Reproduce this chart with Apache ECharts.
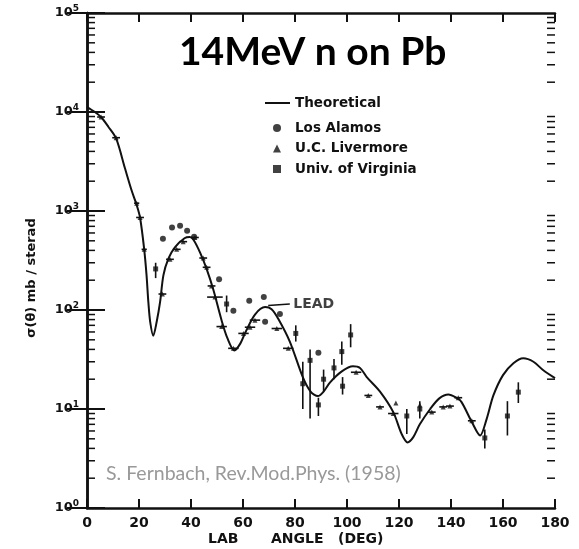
<!DOCTYPE html>
<html><head><meta charset="utf-8">
<script src="https://cdn.jsdelivr.net/npm/echarts@6/dist/echarts.min.js"></script>
<style>html,body{margin:0;padding:0;background:#fff}#c{width:579px;height:549px}</style>
</head><body><div id="c"></div>
<script>
// ---- data ----
const theoryAngle = [0,3,5.4,8.2,11.2,14.6,17.2,19.1,20.4,22,22.9,23.6,24.3,25.5,26.8,28.1,29.4,31.3,33.8,37.5,39.5,41,43.5,46,48.6,51.8,54,56.7,59,61,64.6,68.5,71,73.5,78,83,86,88.8,91,93.5,98,102.3,105,107.6,112.7,117.8,121,123.3,125.5,128,132,135.5,139,142,144,148,151.2,153.7,156.3,160,164,167.8,171.7,175.5,180];
const theoryValue = [11200,10000,8900,7100,5400,2700,1600,1150,860,410,225,120,76,55,76,120,225,330,430,530,545,510,380,260,160,78,52,39,46,60,90,107,102,82,48,21,15,13.5,15,18.6,24,27,26,21,15,9.3,5.6,4.6,5.2,7,10,12.8,14,13,11.8,7.4,5.4,7.9,13.7,22,29,32.5,30,24.6,20.5];

const losAlamosAngle = [29.2,32.7,35.8,38.5,41.2,50.8,56.3,62.4,68,68.5,74.2,89];
const losAlamosValue = [525,680,710,630,550,205,98,124,135,76,91,37];

const livermoreAngle  = [5.4,11.2,19.1,20.4,22,29,31.9,34.5,37,41.5,44.7,46,47.9,49.2,51.8,56.3,60.2,62.7,64.6,73,77.4,103.5,108.2,112.7,117.8,118.8,128,132.6,137,139.6,142.8,148];
const livermoreValue  = [8900,5500,1200,860,410,145,325,410,490,540,335,270,175,135,68,41,58,67,79,65,41,23.5,13.7,10.5,9,11.5,11,9.3,10.5,10.7,13,7.6];
const livermoreAngErr = [1.5,1.5,1,1.5,1,1.5,1.5,1.5,1.5,1.5,1.5,1.5,1.5,3,2,2,2,2,2,2,2,2,1.5,1.5,2,0,0,1.5,1.5,1.5,1.5,1.5];

const virginiaAngle = [26.4,53.7,80.3,83,85.8,89,91,95,98,98.3,101.4,123,128,153,161.7,165.9];
const virginiaValue = [260,115,58,18,31,11,20,26,38,17,56,8.5,10,5.1,8.5,14.8];
const virginiaLow   = [210,95,48,10,8,8.5,15,20,28,14,42,5.6,8,4,5.4,11.5];
const virginiaHigh  = [300,140,70,30,40,13,25,32,48,21,72,10,12,6.2,12,18.6];

const xTickLabels = ['0','20','40','60','80','100','120','140','160','180'];
const minorTickValues = [2,3,4,5,6,7,8,9,20,30,40,50,60,70,80,90,200,300,400,500,600,700,800,900,2000,3000,4000,5000,6000,7000,8000,9000,20000,30000,40000,50000,60000,70000,80000,90000];

// ---- build ----
const INK = '#111';
const zip2 = (a, b) => a.map((v, i) => [v, b[i]]);
const theory = zip2(theoryAngle, theoryValue);
const alamos = zip2(losAlamosAngle, losAlamosValue);
const liver = livermoreAngle.map((v, i) => [v, livermoreValue[i], livermoreAngErr[i]]);
const virg = virginiaAngle.map((v, i) => [v, virginiaValue[i], virginiaLow[i], virginiaHigh[i]]);

const chart = echarts.init(document.getElementById('c'), null, {renderer: 'canvas'});
const labFont = {fontFamily: 'DejaVu Sans', fontWeight: 'bold', color: INK};

chart.setOption({
  backgroundColor: '#fff',
  animation: false,
  title: [
    {text: '14MeV n on Pb', left: 174, top: 28, textStyle: {fontFamily: 'Lato', fontWeight: 'bold', fontSize: 39, color: '#000'}},
    {text: 'S. Fernbach, Rev.Mod.Phys. (1958)', left: 101, top: 459, textStyle: {fontFamily: 'Lato', fontWeight: 'normal', fontSize: 19.5, color: '#999'}},
    {text: 'LAB', left: 203, top: 527, textStyle: Object.assign({fontSize: 14}, labFont)},
    {text: 'ANGLE', left: 266, top: 527, textStyle: Object.assign({fontSize: 14}, labFont)},
    {text: '(DEG)', left: 333, top: 527, textStyle: Object.assign({fontSize: 14}, labFont)}
  ],
  graphic: [{
    type: 'text', x: 32, y: 278, rotation: Math.PI / 2,
    style: {text: 'σ(θ) mb / sterad', font: 'bold 13px "DejaVu Sans"', fill: INK, align: 'center', verticalAlign: 'middle'}
  }],
  legend: [
    {data: [{name: 'Theoretical', icon: 'rect'}], left: 260, top: 91, itemWidth: 25, itemHeight: 2, itemGap: 0,
     textStyle: Object.assign({fontSize: 13.5}, labFont)},
    {data: [{name: 'Los Alamos', icon: 'circle'}, {name: 'U.C. Livermore', icon: 'triangle'}, {name: 'Univ. of Virginia', icon: 'rect'}],
     orient: 'vertical', left: 268, top: 115,
     itemWidth: 8, itemHeight: 8, itemGap: 4.5,
     textStyle: Object.assign({fontSize: 13.5, lineHeight: 16, padding: [0, 0, 0, 9]}, labFont)}
  ],
  grid: {left: 87, right: 24, top: 13, bottom: 41},
  xAxis: [
    {type: 'value', min: 0, max: 180, interval: 20,
     axisLine: {lineStyle: {color: INK, width: 2.5}},
     axisTick: {inside: true, length: 9, lineStyle: {color: INK, width: 2}},
     axisLabel: {margin: 8, fontSize: 14, fontFamily: 'DejaVu Sans', fontWeight: 'bold', color: INK,
       formatter: v => xTickLabels[Math.round(v / 20)]},
     splitLine: {show: false}},
    {type: 'value', min: 0, max: 180, interval: 20, position: 'top',
     axisLine: {lineStyle: {color: INK, width: 2.5}},
     axisTick: {inside: true, length: 9, lineStyle: {color: INK, width: 2}},
     axisLabel: {show: false}, splitLine: {show: false}}
  ],
  yAxis: [
    {type: 'log', logBase: 10, min: 1, max: 100000,
     axisLine: {show: true, lineStyle: {color: INK, width: 2.5}},
     axisTick: {inside: true, length: 18, lineStyle: {color: INK, width: 2}},
     axisLabel: {margin: 8, formatter: v => '{b|10}{s|' + Math.round(Math.log10(v)) + '}',
       rich: {b: {fontSize: 13, fontFamily: 'DejaVu Sans', fontWeight: 'bold', color: INK},
              s: {fontSize: 9, fontFamily: 'DejaVu Sans', fontWeight: 'bold', color: INK, padding: [0, 0, 8, 0]}}},
     splitLine: {show: false}},
    {type: 'log', logBase: 10, min: 1, max: 100000, position: 'right',
     axisLine: {show: true, lineStyle: {color: INK, width: 2.5}},
     axisTick: {inside: true, length: 20, lineStyle: {color: INK, width: 2}},
     axisLabel: {show: false}, splitLine: {show: false}}
  ],
  series: [
    {name: 'Theoretical', type: 'line', data: theory, smooth: 0.3, symbol: 'none',
     lineStyle: {color: INK, width: 2}, itemStyle: {color: INK}, z: 3},
    {name: 'Los Alamos', type: 'scatter', data: alamos, symbol: 'circle', symbolSize: 6,
     itemStyle: {color: INK}, z: 4},
    {name: 'U.C. Livermore', type: 'scatter', data: liver, symbol: 'triangle', symbolSize: 5,
     itemStyle: {color: INK}, z: 4},
    {name: 'Univ. of Virginia', type: 'scatter', data: virg, symbol: 'rect', symbolSize: 5,
     itemStyle: {color: INK}, z: 4},
    {type: 'custom', name: 'angErr', data: liver, silent: true, z: 4,
     renderItem: (p, api) => {
       const x = api.value(0), y = api.value(1), e = api.value(2);
       if (!e) return null;
       const a = api.coord([x - e, y]), b = api.coord([x + e, y]);
       return {type: 'line', shape: {x1: a[0], y1: a[1], x2: b[0], y2: b[1]}, style: {stroke: INK, lineWidth: 1.6}};
     }},
    {type: 'custom', name: 'valErr', data: virg, silent: true, z: 4,
     renderItem: (p, api) => {
       const x = api.value(0);
       const a = api.coord([x, api.value(2)]), b = api.coord([x, api.value(3)]);
       return {type: 'line', shape: {x1: a[0], y1: a[1], x2: b[0], y2: b[1]}, style: {stroke: INK, lineWidth: 1.6}};
     }},
    {type: 'custom', name: 'minorTicks', data: minorTickValues.map(v => [0, v]), silent: true, clip: false, z: 5,
     renderItem: (p, api) => {
       const v = api.value(1);
       const l = api.coord([0, v]), r = api.coord([180, v]);
       return {type: 'group', children: [
         {type: 'line', shape: {x1: l[0], y1: l[1], x2: l[0] + 8, y2: l[1]}, style: {stroke: INK, lineWidth: 1.5}},
         {type: 'line', shape: {x1: r[0], y1: r[1], x2: r[0] - 8, y2: r[1]}, style: {stroke: INK, lineWidth: 1.5}}
       ]};
     }},
    {type: 'line', name: 'leadArrow', data: [[69.7, 111], [78, 115]], symbol: 'none', silent: true,
     lineStyle: {color: INK, width: 1.5}, z: 5},
    {type: 'scatter', name: 'leadLabel', data: [[78, 115]], symbolSize: 1, silent: true,
     itemStyle: {color: 'rgba(0,0,0,0)'},
     label: {show: true, position: 'right', distance: 3, formatter: 'LEAD', fontSize: 14, fontFamily: 'DejaVu Sans', fontWeight: 'bold', color: INK}}
  ]
});
</script>
</body></html>
